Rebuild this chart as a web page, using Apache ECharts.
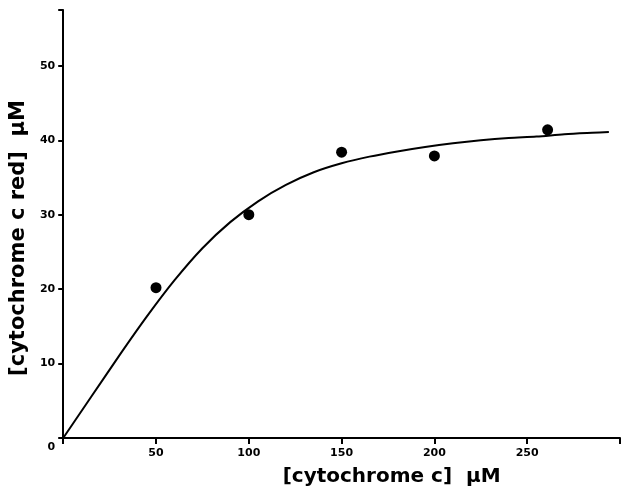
<!DOCTYPE html>
<html>
<head>
<meta charset="utf-8">
<script src="https://cdn.jsdelivr.net/npm/echarts@6/dist/echarts.min.js"></script>
<style>
html,body{margin:0;padding:0;background:#fff;}
#chart{width:623px;height:495px;}
</style>
</head>
<body>
<div id="chart"></div>
<script>
// Measured data points
const pointX = [50, 100, 150, 200, 261];
const pointY = [20.2, 30.0, 38.4, 37.9, 41.4];
// Fitted curve
const curveX = [0, 15, 30, 45, 60, 75, 90, 105, 120, 135, 150, 165, 180, 195, 210, 225, 240, 255, 270, 285, 294];
const curveY = [0, 5.5, 11.0, 16.3, 21.2, 25.5, 29.0, 31.8, 34.0, 35.7, 36.9, 37.8, 38.5, 39.1, 39.6, 40.0, 40.3, 40.5, 40.8, 41.0, 41.1];
// Tick labels
const xTickLabels = [0, 50, 100, 150, 200, 250];
const yTickLabels = [0, 10, 20, 30, 40, 50];
const xTitle = '[cytochrome c]  \u03bcM';
const yTitle = '[cytochrome c red]  \u03bcM';

const FONT = 'DejaVu Sans';
const chart = echarts.init(document.getElementById('chart'), null, {renderer: 'canvas'});
chart.setOption({
  animation: false,
  backgroundColor: '#fff',
  grid: {left: 63, right: 0, top: 10, bottom: 57, containLabel: false},
  xAxis: {
    type: 'value', min: 0, max: 300, interval: 50,
    name: xTitle, nameLocation: 'middle', nameGap: 29,
    nameTextStyle: {fontFamily: FONT, fontWeight: 'bold', fontSize: 20, color: '#000', padding: [0, 0, 0, 100]},
    axisLine: {show: true, lineStyle: {color: '#000', width: 2}},
    axisTick: {show: true, inside: false, length: 6, lineStyle: {color: '#000', width: 2}},
    axisLabel: {
      margin: 10, fontFamily: FONT, fontWeight: 'bold', fontSize: 11, color: '#000',
      formatter: v => (v !== 0 && xTickLabels.indexOf(v) >= 0) ? String(v) : ''
    },
    splitLine: {show: false}
  },
  yAxis: {
    type: 'value', min: 0, max: 57.5, interval: 10,
    name: yTitle, nameLocation: 'middle', nameGap: 16, nameRotate: 90,
    nameTextStyle: {fontFamily: FONT, fontWeight: 'bold', fontSize: 21, color: '#000', padding: [0, 28, 0, 0]},
    axisLine: {show: true, lineStyle: {color: '#000', width: 2}},
    axisTick: {show: true, inside: false, length: 5, lineStyle: {color: '#000', width: 2}},
    axisLabel: {
      margin: 8, fontFamily: FONT, fontWeight: 'bold', fontSize: 11, color: '#000',
      formatter: v => v === 0 ? '{z|0}' : (yTickLabels.indexOf(v) >= 0 ? String(v) : ''),
      rich: {z: {fontFamily: FONT, fontWeight: 'bold', fontSize: 11, color: '#000', padding: [18, 0, 0, 0]}}
    },
    splitLine: {show: false}
  },
  series: [
    {
      type: 'line', smooth: 0.3, symbol: 'none',
      lineStyle: {color: '#000', width: 2},
      data: curveX.map((x, i) => [x, curveY[i]]),
      z: 2
    },
    {
      type: 'scatter', symbol: 'circle', symbolSize: 11,
      itemStyle: {color: '#000', opacity: 1},
      data: pointX.map((x, i) => [x, pointY[i]]),
      z: 3
    }
  ]
});
</script>
</body>
</html>
